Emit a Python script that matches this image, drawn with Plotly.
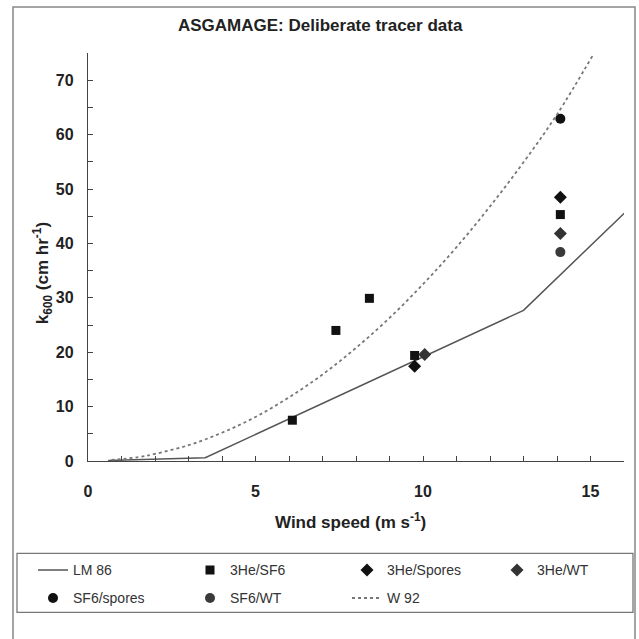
import plotly.graph_objects as go

# ---------------- data ----------------
lm86_x = [0.6, 3.5, 13.0, 16.1]
lm86_y = [0.1, 0.6, 27.7, 46.1]

w92_x = [0.7, 1.5, 2.0, 3.0, 4.0, 5.0, 6.0, 7.0, 8.0, 9.0, 10.0, 11.0, 12.0, 13.0, 14.0, 15.1]
w92_y = [0.2, 0.7, 1.3, 2.9, 5.2, 8.1, 11.7, 15.9, 20.8, 26.3, 32.5, 39.3, 46.8, 54.9, 63.7, 74.9]

he_sf6_x = [6.1, 7.4, 8.4, 9.75, 14.1]
he_sf6_y = [7.5, 24.0, 29.9, 19.4, 45.3]

he_spores_x = [9.75, 14.1]
he_spores_y = [17.4, 48.5]

he_wt_x = [10.05, 14.1]
he_wt_y = [19.6, 41.8]

sf6_spores_x = [14.1]
sf6_spores_y = [62.9]

sf6_wt_x = [14.1]
sf6_wt_y = [38.4]

x_ticks = [0, 5, 10, 15]
y_ticks = [0, 10, 20, 30, 40, 50, 60, 70]

# ---------------- layout helpers (pixel -> paper) ----------------
W = H = 639
PX_L, PX_R, PY_T, PY_B = 88, 624, 53, 460.7


def px(x):
    return (x - PX_L) / (PX_R - PX_L)


def py(y):
    return (PY_B - y) / (PY_B - PY_T)


FONT = "Liberation Sans, Arial, sans-serif"

fig = go.Figure()
fig.add_trace(go.Scatter(x=lm86_x, y=lm86_y, mode="lines", name="LM 86", legend="legend",
                         line=dict(color="#555555", width=1.5)))
fig.add_trace(go.Scatter(x=he_sf6_x, y=he_sf6_y, mode="markers", name="3He/SF6", legend="legend",
                         marker=dict(symbol="square", size=9, color="#111111")))
fig.add_trace(go.Scatter(x=he_spores_x, y=he_spores_y, mode="markers", name="3He/Spores",
                         legend="legend",
                         marker=dict(symbol="diamond", size=10, color="#111111")))
fig.add_trace(go.Scatter(x=he_wt_x, y=he_wt_y, mode="markers", name="3He/WT", legend="legend3",
                         marker=dict(symbol="diamond", size=10, color="#333333")))
fig.add_trace(go.Scatter(x=sf6_spores_x, y=sf6_spores_y, mode="markers", name="SF6/spores",
                         legend="legend2",
                         marker=dict(symbol="circle", size=10, color="#111111")))
fig.add_trace(go.Scatter(x=sf6_wt_x, y=sf6_wt_y, mode="markers", name="SF6/WT", legend="legend2",
                         marker=dict(symbol="circle", size=10, color="#3a3a3a")))
fig.add_trace(go.Scatter(x=w92_x, y=w92_y, mode="lines", name="W 92", legend="legend2",
                         line=dict(color="#777777", width=1.8, dash="dot", shape="spline")))

axis_common = dict(
    showline=True, linecolor="#444444", linewidth=1.3,
    ticks="inside", ticklen=5, tickcolor="#444444", tickwidth=1,
    showgrid=False, zeroline=False,
    tickfont=dict(family=FONT, size=16, color="#222222", weight="bold"),
)

legend_common = dict(orientation="h", xanchor="left", yanchor="top",
                     entrywidthmode="pixels",
                     bgcolor="rgba(0,0,0,0)", borderwidth=0,
                     font=dict(family=FONT, size=14, color="#333333"))

fig.update_layout(
    width=W, height=H,
    margin=dict(l=PX_L, r=W - PX_R, t=PY_T, b=H - PY_B, autoexpand=False),
    paper_bgcolor="white", plot_bgcolor="white",
    showlegend=True,
    xaxis=dict(range=[0, 16], tickvals=x_ticks, ticklabelstandoff=16,
               minor=dict(dtick=1, ticks="inside", ticklen=5, tickcolor="#444444"),
               **axis_common),
    yaxis=dict(range=[0, 75], tickvals=y_ticks, ticklabelstandoff=10,
               minor=dict(dtick=5, ticks="inside", ticklen=5, tickcolor="#444444"),
               **axis_common),
    legend=dict(x=px(33), y=py(554), entrywidth=112, **legend_common),
    legend2=dict(x=px(33), y=py(582), entrywidth=112, **legend_common),
    legend3=dict(x=px(497), y=py(554), entrywidth=70, **legend_common),
    annotations=[
        dict(text="<b>ASGAMAGE: Deliberate tracer data</b>", x=px(320), y=py(26),
             xref="paper", yref="paper", showarrow=False, xanchor="center", yanchor="middle",
             font=dict(family=FONT, size=17, color="#222222")),
        dict(text="<b>Wind speed (m s<sup>-1</sup>)</b>", x=px(350), y=py(521),
             xref="paper", yref="paper", showarrow=False, xanchor="center", yanchor="middle",
             font=dict(family=FONT, size=17, color="#222222")),
        dict(text="<b>k<sub>600</sub> (cm hr<sup>-1</sup>)</b>", x=px(42), y=py(273),
             xref="paper", yref="paper", showarrow=False, textangle=-90,
             xanchor="center", yanchor="middle",
             font=dict(family=FONT, size=17, color="#222222")),
    ],
    shapes=[
        dict(type="rect", xref="paper", yref="paper",
             x0=px(13), x1=px(635), y0=py(645), y1=py(7),
             line=dict(color="#888888", width=1.5), fillcolor="rgba(0,0,0,0)", layer="below"),
        dict(type="rect", xref="paper", yref="paper",
             x0=px(17), x1=px(633), y0=py(612), y1=py(553),
             line=dict(color="#777777", width=1.3), fillcolor="rgba(0,0,0,0)", layer="below"),
    ],
)

fig.write_html("out.html")
